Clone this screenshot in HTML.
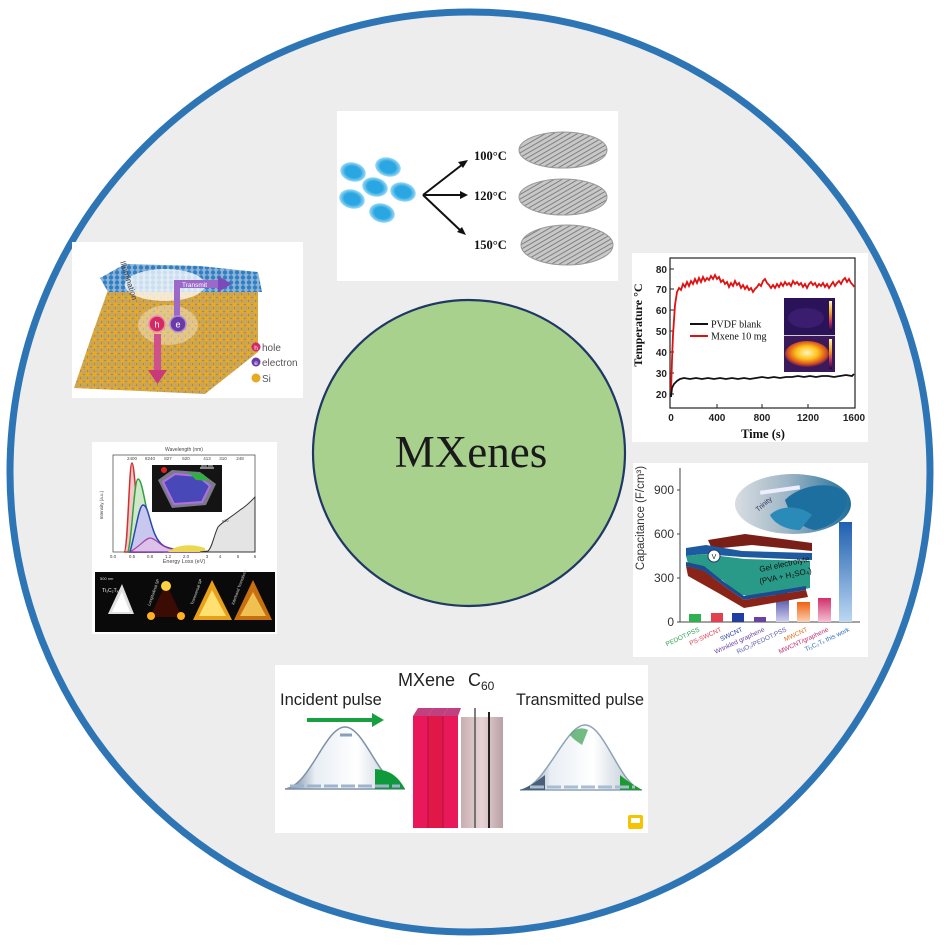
<!DOCTYPE html>
<html><head><meta charset="utf-8">
<style>
html,body{margin:0;padding:0;background:#fff;}
svg{display:block;}
text{font-family:"Liberation Sans",sans-serif;}
text.serif{font-family:"Liberation Serif",serif;}
</style></head>
<body>
<svg width="944" height="945" viewBox="0 0 944 945" xmlns="http://www.w3.org/2000/svg">
<defs>
  <pattern id="gold" width="7" height="7" patternUnits="userSpaceOnUse">
    <rect width="7" height="7" fill="#c9a55a"/>
    <line x1="0" y1="3.5" x2="7" y2="3.5" stroke="#8a7a60" stroke-width="0.6"/>
    <line x1="3.5" y1="0" x2="3.5" y2="7" stroke="#8a7a60" stroke-width="0.6"/>
    <circle cx="3.5" cy="3.5" r="2.3" fill="#e9a920"/>
  </pattern>
  <pattern id="blue" width="6" height="5" patternUnits="userSpaceOnUse">
    <rect width="6" height="5" fill="#8fb3d6"/>
    <circle cx="3" cy="2.5" r="2.2" fill="#2f7fc4"/>
  </pattern>
  <pattern id="stripe" width="4" height="4" patternUnits="userSpaceOnUse" patternTransform="rotate(60)">
    <rect width="4" height="4" fill="#c8c8c8"/>
    <line x1="0" y1="0" x2="0" y2="4" stroke="#6e6e6e" stroke-width="1.6"/>
  </pattern>
  <radialGradient id="glow" cx="50%" cy="50%" r="50%">
    <stop offset="0.6" stop-color="#2aa6e2"/>
    <stop offset="1" stop-color="#9ddcf5"/>
  </radialGradient>
  <radialGradient id="hot" cx="50%" cy="45%" r="55%">
    <stop offset="0" stop-color="#fff6c0"/>
    <stop offset="0.45" stop-color="#ffc21a"/>
    <stop offset="0.8" stop-color="#d8501e"/>
    <stop offset="1" stop-color="#5a1a5a"/>
  </radialGradient>
  <linearGradient id="cbar" x1="0" y1="0" x2="0" y2="1">
    <stop offset="0" stop-color="#fff8b0"/>
    <stop offset="0.4" stop-color="#f0a020"/>
    <stop offset="0.7" stop-color="#c03060"/>
    <stop offset="1" stop-color="#1a0a40"/>
  </linearGradient>
  <linearGradient id="barB" x1="0" y1="0" x2="0" y2="1">
    <stop offset="0" stop-color="#1f5fb0"/>
    <stop offset="1" stop-color="#bcd8f2"/>
  </linearGradient>
  <linearGradient id="barP" x1="0" y1="0" x2="0" y2="1">
    <stop offset="0" stop-color="#3a3a9a"/>
    <stop offset="1" stop-color="#d0d0f0"/>
  </linearGradient>
  <linearGradient id="barO" x1="0" y1="0" x2="0" y2="1">
    <stop offset="0" stop-color="#f06010"/>
    <stop offset="1" stop-color="#fcd0b0"/>
  </linearGradient>
  <linearGradient id="barK" x1="0" y1="0" x2="0" y2="1">
    <stop offset="0" stop-color="#d0306a"/>
    <stop offset="1" stop-color="#f6c0d4"/>
  </linearGradient>
  <linearGradient id="oval" x1="0" y1="0" x2="1" y2="0">
    <stop offset="0" stop-color="#d8dde2"/>
    <stop offset="0.45" stop-color="#9fb6c6"/>
    <stop offset="1" stop-color="#1f6f9a"/>
  </linearGradient>
  <linearGradient id="pulse" x1="0" y1="0" x2="1" y2="0">
    <stop offset="0" stop-color="#5f7890"/>
    <stop offset="0.25" stop-color="#e8eef4"/>
    <stop offset="0.6" stop-color="#ffffff"/>
    <stop offset="1" stop-color="#aebccc"/>
  </linearGradient>
  <linearGradient id="c60" x1="0" y1="0" x2="1" y2="0">
    <stop offset="0" stop-color="#c9aeb0"/>
    <stop offset="0.5" stop-color="#e7d4d6"/>
    <stop offset="1" stop-color="#b9a0a4"/>
  </linearGradient>
</defs>

<!-- outer circle -->
<circle cx="470" cy="472" r="460" fill="#ededed" stroke="#2e75b6" stroke-width="7"/>

<!-- central circle -->
<ellipse cx="469" cy="453" rx="156" ry="153" fill="#a9d18e" stroke="#1f3864" stroke-width="2.2"/>
<text x="471" y="467" text-anchor="middle" class="serif" font-size="45" fill="#1a1a1a">MXenes</text>

<!-- ============ Panel 1 (top) ============ -->
<rect x="337" y="111" width="281" height="170" fill="#fff"/>
<g fill="url(#glow)">
  <ellipse cx="353" cy="172" rx="13" ry="9.5" transform="rotate(15 353 172)"/>
  <ellipse cx="388" cy="167" rx="13" ry="9.5" transform="rotate(15 388 167)"/>
  <ellipse cx="375" cy="187" rx="13" ry="9.5" transform="rotate(15 375 187)"/>
  <ellipse cx="403" cy="192" rx="13" ry="9.5" transform="rotate(15 403 192)"/>
  <ellipse cx="352" cy="199" rx="13" ry="9.5" transform="rotate(15 352 199)"/>
  <ellipse cx="382" cy="213" rx="13" ry="9.5" transform="rotate(15 382 213)"/>
</g>
<g stroke="#111" stroke-width="2" fill="#111">
  <line x1="423" y1="195" x2="463" y2="164"/>
  <line x1="423" y1="195" x2="462" y2="195"/>
  <line x1="423" y1="195" x2="461" y2="231"/>
  <polygon points="468,160 458,162 463,168" stroke="none"/>
  <polygon points="468,195 460,191 460,199" stroke="none"/>
  <polygon points="466,235 462,227 457,232" stroke="none"/>
</g>
<text x="474" y="160" class="serif" font-size="12.5" font-weight="bold" fill="#111">100°C</text>
<text x="474" y="200" class="serif" font-size="12.5" font-weight="bold" fill="#111">120°C</text>
<text x="474" y="249" class="serif" font-size="12.5" font-weight="bold" fill="#111">150°C</text>
<ellipse cx="563" cy="150" rx="44" ry="18" fill="url(#stripe)" stroke="#999" stroke-width="1"/>
<ellipse cx="563" cy="197" rx="44" ry="18" fill="url(#stripe)" stroke="#999" stroke-width="1"/>
<ellipse cx="567" cy="245" rx="46" ry="20" fill="url(#stripe)" stroke="#999" stroke-width="1"/>

<!-- ============ Panel 2 (left top, Si lattice) ============ -->
<rect x="72" y="242" width="231" height="156" fill="#fff"/>
<polygon points="108,290 258,292 258,352 205,394 74,388 92,335" fill="url(#gold)"/>
<polygon points="100,278 125,264 200,266 258,272 262,292 108,292" fill="url(#blue)"/>
<ellipse cx="165" cy="285" rx="40" ry="16" fill="#ffffff" opacity="0.75"/>
<ellipse cx="168" cy="325" rx="30" ry="20" fill="#ffffff" opacity="0.35"/>
<text x="120" y="262" font-size="8" fill="#444" transform="rotate(72 120 262)">Illumination</text>
<rect x="174" y="280" width="6" height="40" fill="#9b6ac8"/>
<rect x="174" y="280" width="46" height="8" fill="#9b6ac8"/>
<polygon points="218,276 232,284 218,292" fill="#7a4ab8"/>
<text x="182" y="287" font-size="6.5" fill="#fff">Transmit</text>
<rect x="154" y="334" width="7" height="38" fill="#d0508a"/>
<polygon points="148,370 167,370 157.5,384" fill="#c83a7a"/>
<circle cx="157" cy="324" r="8" fill="#d42a62" stroke="#f08ab0" stroke-width="1.5"/>
<circle cx="178" cy="324" r="8" fill="#6a3aa8" stroke="#b090e0" stroke-width="1.5"/>
<text x="157" y="327.5" font-size="9" fill="#fff" text-anchor="middle">h</text>
<text x="178" y="327.5" font-size="9" fill="#fff" text-anchor="middle">e</text>
<circle cx="256" cy="347" r="4.5" fill="#d42a62"/>
<text x="256" y="350" font-size="6.5" fill="#fff" text-anchor="middle">h</text>
<text x="262" y="351" font-size="10" fill="#555">hole</text>
<circle cx="256" cy="362" r="4.5" fill="#6a3aa8"/>
<text x="256" y="365" font-size="6.5" fill="#fff" text-anchor="middle">e</text>
<text x="262" y="366" font-size="10" fill="#555">electron</text>
<circle cx="256" cy="378" r="4.5" fill="#e9a920"/>
<text x="262" y="382" font-size="10" fill="#555">Si</text>

<!-- ============ Panel 3 (right top, temperature) ============ -->
<rect x="632" y="253" width="236" height="189" fill="#fff"/>
<rect x="670" y="258" width="185" height="150" fill="none" stroke="#222" stroke-width="1.2"/>
<g stroke="#222" stroke-width="1">
  <line x1="670" y1="269" x2="674" y2="269"/><line x1="670" y1="289" x2="674" y2="289"/>
  <line x1="670" y1="310" x2="674" y2="310"/><line x1="670" y1="331" x2="674" y2="331"/>
  <line x1="670" y1="352" x2="674" y2="352"/><line x1="670" y1="373" x2="674" y2="373"/>
  <line x1="670" y1="394" x2="674" y2="394"/>
  <line x1="717" y1="408" x2="717" y2="404"/><line x1="762" y1="408" x2="762" y2="404"/>
  <line x1="808" y1="408" x2="808" y2="404"/>
</g>
<g font-size="10" fill="#222" text-anchor="end" font-weight="bold">
  <text x="667" y="273">80</text><text x="667" y="293">70</text><text x="667" y="314">60</text>
  <text x="667" y="335">50</text><text x="667" y="356">40</text><text x="667" y="377">30</text>
  <text x="667" y="398">20</text>
</g>
<g font-size="10" fill="#222" text-anchor="middle" font-weight="bold">
  <text x="671" y="421">0</text><text x="717" y="421">400</text><text x="762" y="421">800</text>
  <text x="808" y="421">1200</text><text x="854" y="421">1600</text>
</g>
<text x="763" y="438" class="serif" font-size="12.5" font-weight="bold" text-anchor="middle" fill="#111">Time (s)</text>
<text x="642" y="325" class="serif" font-size="12" font-weight="bold" text-anchor="middle" fill="#111" transform="rotate(-90 642 325)">Temperature °C</text>
<polyline fill="none" stroke="#e01010" stroke-width="1.8" points="671,392 672,360 673,335 675,305 677,292 679,288 681,290 683,284 685,287 687,282 689,286 691,281 693,284 695,279 697,283 699,278 701,282 703,277 705,281 707,278 709,280 711,276 713,279 715,275 717,279 719,277 721,282 723,280 725,284 727,282 729,287 731,283 733,286 735,281 737,285 739,283 741,288 743,285 745,289 747,286 749,290 751,288 753,292 755,289 757,287 759,284 761,286 763,281 765,279 767,283 769,285 771,288 773,285 775,288 777,284 779,287 781,283 783,286 785,282 787,285 789,283 791,286 793,281 795,284 797,282 799,285 801,283 803,287 805,284 807,288 809,284 811,282 813,285 815,283 817,287 819,284 821,286 823,283 825,287 827,284 829,288 831,285 833,282 835,286 837,283 839,281 841,284 843,280 845,278 847,282 849,279 851,283 853,285 854,287"/>
<polyline fill="none" stroke="#111" stroke-width="1.8" points="671,397 672,388 674,384 677,381 680,379 684,378 690,379 696,378 702,379 708,378 714,379 720,378 726,379 732,378 738,379 744,378 750,379 756,378 762,377 768,378 774,377 780,378 786,377 792,377 798,376 804,377 810,376 816,377 822,376 828,376 834,377 840,376 846,375 852,376 854,374"/>
<line x1="690" y1="324" x2="708" y2="324" stroke="#111" stroke-width="2"/>
<text x="711" y="327.5" class="serif" font-size="10" fill="#111">PVDF blank</text>
<line x1="690" y1="336" x2="708" y2="336" stroke="#e01010" stroke-width="2"/>
<text x="711" y="339.5" class="serif" font-size="10" fill="#111">Mxene 10 mg</text>
<rect x="784" y="298" width="51" height="37" fill="#2a1358"/>
<ellipse cx="806" cy="318" rx="18" ry="10" fill="#3a1d6e"/>
<rect x="784" y="336" width="51" height="36" fill="#3a1a5a"/>
<ellipse cx="807" cy="354" rx="22" ry="13" fill="url(#hot)"/>
<rect x="829" y="301" width="3" height="30" fill="url(#cbar)"/>
<rect x="829" y="339" width="3" height="30" fill="url(#cbar)"/>
<line x1="784" y1="335.5" x2="835" y2="335.5" stroke="#ccc" stroke-width="1"/>

<!-- ============ Panel 4 (left middle, spectroscopy) ============ -->
<rect x="92" y="442" width="185" height="192" fill="#fff"/>
<rect x="113" y="455" width="142" height="97" fill="none" stroke="#555" stroke-width="0.8"/>
<text x="184" y="451" font-size="5" fill="#444" text-anchor="middle">Wavelength (nm)</text>
<text x="184" y="563" font-size="5.5" fill="#444" text-anchor="middle">Energy Loss (eV)</text>
<text x="103" y="505" font-size="4.5" fill="#444" text-anchor="middle" transform="rotate(-90 103 505)">Intensity (a.u.)</text>
<g font-size="4.5" fill="#444" text-anchor="middle">
  <text x="113" y="558">0.0</text><text x="132" y="558">0.5</text><text x="150" y="558">0.8</text>
  <text x="168" y="558">1.2</text><text x="186" y="558">2.0</text><text x="207" y="558">3</text>
  <text x="220" y="558">4</text><text x="238" y="558">5</text><text x="255" y="558">6</text>
  <text x="132" y="460">2400</text><text x="150" y="460">8240</text><text x="168" y="460">827</text>
  <text x="186" y="460">620</text><text x="207" y="460">413</text><text x="223" y="460">310</text><text x="240" y="460">248</text>
</g>
<path d="M124,552 C128,552 129,463 132,463 C135,463 137,535 146,552 Z" fill="#f2c8c8" stroke="#d03030" stroke-width="1.5"/>
<path d="M128,552 C132,540 134,479 138,479 C144,479 146,530 162,552 Z" fill="#cfe8c8" stroke="#30a040" stroke-width="1.5"/>
<path d="M130,552 C136,530 139,505 143,505 C150,505 150,538 164,546 C172,550 185,551 200,552 Z" fill="#c8c8ee" stroke="#2848b0" stroke-width="1.5"/>
<path d="M130,552 C140,546 146,538 150,538 C156,538 160,547 172,549 C180,550 190,551 200,552 Z" fill="#e0c0e8" stroke="#a030a0" stroke-width="1.2" opacity="0.85"/>
<path d="M168,552 C176,545 190,543 205,548 L205,552 Z" fill="#ecd850"/>
<path d="M200,552 L208,551 C212,548 214,535 218,527 C222,522 230,518 240,510 C248,505 252,500 255,497 L255,552 Z" fill="#e4e4e4" stroke="#333" stroke-width="1"/>
<text x="222" y="522" font-size="4" fill="#333">x10</text>
<rect x="152" y="465" width="70" height="47" fill="#141414"/>
<polygon points="158,480 172,470 200,472 216,484 206,505 172,508" fill="#7a7a8a"/>
<polygon points="163,482 175,474 198,476 210,486 202,502 174,504" fill="#4848b8" stroke="#b070e0" stroke-width="2"/>
<polygon points="188,472 203,474 210,481 196,480" fill="#30b040"/>
<circle cx="164" cy="470" r="3" fill="#e02020"/>
<line x1="200" y1="468" x2="214" y2="468" stroke="#fff" stroke-width="1"/>
<text x="207" y="467" font-size="3.5" fill="#fff" text-anchor="middle">500 nm</text>
<rect x="95" y="572" width="180" height="60" fill="#0a0a0a"/>
<polygon points="108,614 122,584 134,614" fill="#e0e0e0"/>
<polygon points="112,612 122,592 130,612" fill="#ffffff"/>
<text x="100" y="580" font-size="4" fill="#ddd">500 nm</text>
<text x="102" y="592" font-size="5" fill="#eee">Ti₃C₂Tₓ</text>
<polygon points="150,617 166,583 182,617" fill="#3a0c04"/>
<circle cx="166" cy="586" r="5" fill="#ffd040"/>
<circle cx="151" cy="616" r="4" fill="#ffb020"/>
<circle cx="181" cy="616" r="4" fill="#ffb020"/>
<polygon points="193,620 212,580 232,620" fill="#e8a018"/>
<polygon points="199,616 212,590 226,616" fill="#ffe070"/>
<polygon points="234,620 253,580 272,620" fill="#c87010"/>
<polygon points="240,616 253,592 266,616" fill="#f0c050"/>
<text x="150" y="606" font-size="4" fill="#ddd" transform="rotate(-70 150 606)">Longitudinal SP</text>
<text x="193" y="605" font-size="4" fill="#ddd" transform="rotate(-70 193 605)">Transversal SP</text>
<text x="234" y="605" font-size="4" fill="#ddd" transform="rotate(-70 234 605)">Interband Transitions</text>

<!-- ============ Panel 5 (right middle, capacitance) ============ -->
<rect x="633" y="463" width="235" height="194" fill="#fff"/>
<ellipse cx="793" cy="504" rx="58" ry="30" fill="url(#oval)"/>
<path d="M785,500 C800,485 830,480 845,492 C852,505 840,525 815,530 C800,528 790,515 785,500 Z" fill="#1d6fa0"/>
<path d="M770,515 C780,505 800,505 812,515 L800,530 C788,530 775,525 770,515 Z" fill="#2a8ab8"/>
<rect x="760" y="488" width="40" height="4" fill="#eef" transform="rotate(-8 780 490)"/>
<text x="758" y="512" font-size="7" fill="#335" transform="rotate(-40 758 512)">Trinity</text>
<line x1="680" y1="468" x2="680" y2="622" stroke="#444" stroke-width="1"/>
<line x1="680" y1="622" x2="860" y2="622" stroke="#444" stroke-width="1"/>
<g stroke="#444" stroke-width="1">
  <line x1="677" y1="490" x2="680" y2="490"/><line x1="677" y1="534" x2="680" y2="534"/>
  <line x1="677" y1="578" x2="680" y2="578"/><line x1="677" y1="622" x2="680" y2="622"/>
</g>
<g font-size="12" fill="#333" text-anchor="end">
  <text x="674" y="494">900</text><text x="674" y="538">600</text>
  <text x="674" y="582">300</text><text x="674" y="626">0</text>
</g>
<text x="644" y="518" font-size="11.5" fill="#333" text-anchor="middle" transform="rotate(-90 644 518)">Capacitance (F/cm³)</text>
<!-- bars -->
<rect x="689" y="614" width="12" height="8" fill="#30b050"/>
<rect x="711" y="613" width="12" height="9" fill="#e04050"/>
<rect x="732" y="613" width="12" height="9" fill="#2040a0"/>
<rect x="754" y="617" width="12" height="5" fill="#6a40a0"/>
<rect x="776" y="593" width="13" height="29" fill="url(#barP)"/>
<rect x="797" y="602" width="13" height="20" fill="url(#barO)"/>
<rect x="818" y="598" width="13" height="24" fill="url(#barK)"/>
<rect x="839" y="522" width="13" height="100" fill="url(#barB)"/>
<!-- device -->
<polygon points="708,540 745,534 812,543 812,551 752,545 712,549" fill="#7a1e18"/>
<polygon points="686,548 706,545 742,551 812,553 812,560 742,557 704,554 686,556" fill="#1e5aa0"/>
<polygon points="686,556 704,554 745,559 810,561 810,588 758,598 738,594 722,580 690,571" fill="#2a9a88"/>
<polygon points="686,566 704,571 724,586 744,600 806,590 808,597 744,608 720,594 688,576" fill="#8a2418"/>
<polygon points="686,562 704,566 724,582 744,596 806,586 806,590 744,600 724,586 704,571 686,566" fill="#1e4a90"/>
<circle cx="714" cy="556" r="6" fill="#fff" stroke="#1e3a70" stroke-width="1"/>
<text x="714" y="559" font-size="7" text-anchor="middle" fill="#222">V</text>
<text x="760" y="572" font-size="8" fill="#111" transform="rotate(-12 760 572)">Gel electrolyte</text>
<text x="760" y="584" font-size="8" fill="#111" transform="rotate(-12 760 584)">(PVA + H₂SO₄)</text>
<g font-size="6.5">
  <text x="700" y="631" text-anchor="end" fill="#30a050" transform="rotate(-25 700 631)">PEDOT:PSS</text>
  <text x="722" y="631" text-anchor="end" fill="#e04050" transform="rotate(-25 722 631)">PS-SWCNT</text>
  <text x="743" y="631" text-anchor="end" fill="#2040a0" transform="rotate(-25 743 631)">SWCNT</text>
  <text x="765" y="631" text-anchor="end" fill="#6a40a0" transform="rotate(-25 765 631)">Wrinkled graphene</text>
  <text x="787" y="631" text-anchor="end" fill="#6060b0" transform="rotate(-25 787 631)">RuO₂/PEDOT:PSS</text>
  <text x="808" y="631" text-anchor="end" fill="#e07020" transform="rotate(-25 808 631)">MWCNT</text>
  <text x="829" y="631" text-anchor="end" fill="#c03070" transform="rotate(-25 829 631)">MWCNT/graphene</text>
  <text x="850" y="631" text-anchor="end" fill="#3070c0" transform="rotate(-25 850 631)">Ti₃C₂Tₓ this work</text>
</g>

<!-- ============ Panel 6 (bottom, pulses) ============ -->
<rect x="275" y="665" width="373" height="168" fill="#fff"/>
<text x="280" y="705" font-size="16.5" fill="#222">Incident pulse</text>
<text x="398" y="686" font-size="18" fill="#222">MXene</text>
<text x="468" y="686" font-size="18" fill="#222">C<tspan font-size="12" dy="4">60</tspan></text>
<text x="516" y="705" font-size="16.2" fill="#222">Transmitted pulse</text>
<line x1="307" y1="720" x2="374" y2="720" stroke="#16a040" stroke-width="4"/>
<polygon points="372,713 384,720 372,727" fill="#16a040"/>
<path d="M285,789 C310,786 325,727 345,727 C365,727 380,786 405,789 Z" fill="url(#pulse)" stroke="#7d91a8" stroke-width="1.5"/>
<path d="M375,769 C385,770 396,772 405,789 L375,789 Z" fill="#0e9a3a"/>
<line x1="290" y1="786" x2="400" y2="786" stroke="#9fb4cc" stroke-width="3" stroke-dasharray="14,3"/>
<line x1="340" y1="735" x2="352" y2="735" stroke="#8aa0b8" stroke-width="3"/>
<polygon points="413,716 418,708 433,708 428,716" fill="#c04080"/>
<polygon points="428,716 433,708 448,708 443,716" fill="#c04080"/>
<polygon points="443,716 448,708 461,708 458,716" fill="#c04080"/>
<rect x="413" y="716" width="15" height="112" fill="#e8185a"/>
<rect x="428" y="716" width="15" height="112" fill="#e01848"/>
<rect x="443" y="716" width="15" height="112" fill="#e8185a"/>
<line x1="428" y1="716" x2="428" y2="828" stroke="#b01040" stroke-width="1"/>
<line x1="443" y1="716" x2="443" y2="828" stroke="#b01040" stroke-width="1"/>
<rect x="461" y="717" width="42" height="111" fill="url(#c60)"/>
<line x1="475" y1="708" x2="475" y2="828" stroke="#555" stroke-width="1.5"/>
<line x1="489" y1="712" x2="489" y2="828" stroke="#222" stroke-width="2"/>
<path d="M520,790 C545,788 565,725 585,725 C605,725 620,786 642,790 Z" fill="url(#pulse)" stroke="#8ea2b8" stroke-width="1.5"/>
<path d="M570,735 C575,728 582,727 588,730 L582,745 C578,742 574,740 570,735 Z" fill="#3aa050" opacity="0.7"/>
<path d="M620,775 C628,782 636,786 642,790 L620,790 Z" fill="#1a9a30"/>
<path d="M520,790 C528,787 535,783 545,775 L545,790 Z" fill="#4a6078"/>
<line x1="530" y1="787" x2="635" y2="787" stroke="#a8bcd2" stroke-width="3" stroke-dasharray="14,3"/>
<rect x="628" y="815" width="15" height="14" rx="2" fill="#f5c400"/>
<rect x="631" y="818" width="9" height="5" fill="#fff"/>
</svg>
</body></html>
